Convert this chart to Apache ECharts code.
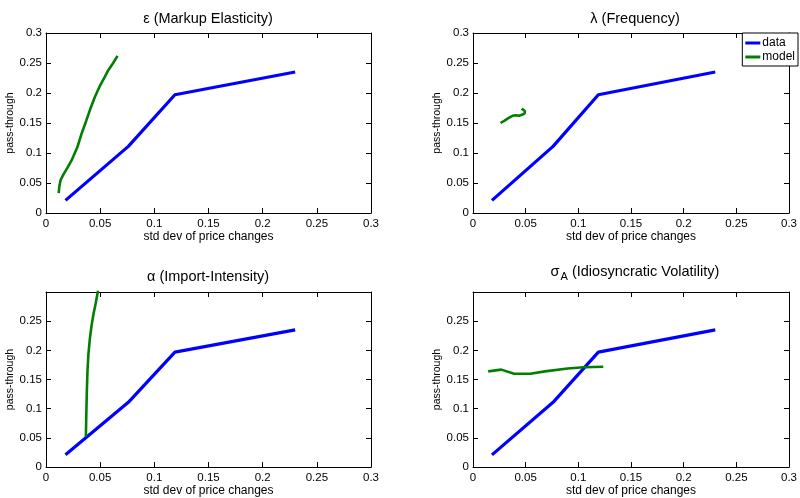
<!DOCTYPE html>
<html>
<head>
<meta charset="utf-8">
<script src="https://cdn.jsdelivr.net/npm/echarts@6/dist/echarts.min.js"></script>
<style>
  html, body { margin: 0; padding: 0; background: #fff; }
  #chart { width: 800px; height: 498px; }
</style>
</head>
<body>
<div id="chart"></div>
<script>
// data (same empirical curve in every panel)
var dataX = [0.018, 0.076, 0.119, 0.230];
var dataY = [0.021, 0.111, 0.197, 0.235];

// model curves, one per panel
var epsX = [0.0117, 0.0123, 0.0135, 0.0160, 0.0200, 0.0237, 0.0290, 0.0330, 0.0370, 0.0406, 0.0450, 0.0498, 0.0540, 0.0575, 0.0620, 0.0660];
var epsY = [0.033, 0.044, 0.055, 0.064, 0.076, 0.088, 0.110, 0.133, 0.153, 0.172, 0.193, 0.212, 0.226, 0.238, 0.250, 0.262];

var lamX = [0.0261, 0.0300, 0.0335, 0.0375, 0.0406, 0.0437, 0.0470, 0.0490, 0.0492, 0.0480, 0.0462];
var lamY = [0.150, 0.154, 0.158, 0.162, 0.163, 0.162, 0.164, 0.166, 0.170, 0.173, 0.174];

var alpX = [0.0368, 0.0372, 0.0377, 0.0383, 0.0392, 0.0405, 0.0420, 0.0438, 0.0458, 0.0478, 0.0500];
var alpY = [0.052, 0.090, 0.130, 0.165, 0.195, 0.220, 0.242, 0.262, 0.280, 0.300, 0.320];

var sigX = [0.0144, 0.0268, 0.0390, 0.0545, 0.0683, 0.0898, 0.1050, 0.1237];
var sigY = [0.164, 0.167, 0.160, 0.160, 0.164, 0.169, 0.171, 0.172];

var xTicks = [0, 0.05, 0.1, 0.15, 0.2, 0.25, 0.3];

var FONT = 'Liberation Sans, Arial, Helvetica, sans-serif';

function pairs(xs, ys) {
    return xs.map(function (x, i) { return [x, ys[i]]; });
}

var grids = [
    { left: 46, top: 33, width: 325, height: 180 },
    { left: 473, top: 33, width: 325, height: 180 },
    { left: 46, top: 292, width: 325, height: 180 },
    { left: 473, top: 292, width: 325, height: 180 }
];
var models = [pairs(epsX, epsY), pairs(lamX, lamY), pairs(alpX, alpY), pairs(sigX, sigY)];

var xAxes = [], yAxes = [], series = [];
var line = { show: true, onZero: false, lineStyle: { color: '#000', width: 1 } };
var tick = { show: true, inside: true, length: 5, lineStyle: { color: '#000' } };

grids.forEach(function (g, i) {
    var bottomRow = i >= 2;
    // bottom x axis with labels
    xAxes.push({
        type: 'value', gridIndex: i, position: 'bottom',
        min: xTicks[0], max: xTicks[xTicks.length - 1], interval: 0.05,
        axisLine: line, axisTick: tick, splitLine: { show: false },
        axisLabel: { color: '#000', fontSize: 11.5, fontFamily: FONT, margin: 5 },
        name: 'std dev of price changes', nameLocation: 'middle', nameGap: 16,
        nameTextStyle: { color: '#000', fontSize: 12, fontFamily: FONT, verticalAlign: 'top' }
    });
    // top x axis, ticks only
    xAxes.push({
        type: 'value', gridIndex: i, position: 'top',
        min: 0, max: 0.3, interval: 0.05,
        axisLine: line, axisTick: tick, splitLine: { show: false },
        axisLabel: { show: false }
    });
    yAxes.push({
        type: 'value', gridIndex: i, position: 'left',
        min: 0, max: 0.3, interval: 0.05,
        axisLine: line, axisTick: tick, splitLine: { show: false },
        axisLabel: { color: '#000', fontSize: 11.5, fontFamily: FONT, margin: 4, showMaxLabel: !bottomRow },
        name: 'pass-through', nameLocation: 'middle', nameGap: 27,
        nameTextStyle: { color: '#000', fontSize: 10.5, fontFamily: FONT }
    });
    yAxes.push({
        type: 'value', gridIndex: i, position: 'right',
        min: 0, max: 0.3, interval: 0.05,
        axisLine: line, axisTick: tick, splitLine: { show: false },
        axisLabel: { show: false }
    });
    series.push({
        name: 'data', type: 'line', xAxisIndex: 2 * i, yAxisIndex: 2 * i,
        data: pairs(dataX, dataY), showSymbol: false, silent: true,
        lineStyle: { color: '#0000ff', width: 3.2 }, itemStyle: { color: '#0000ff' }
    });
    series.push({
        name: 'model', type: 'line', xAxisIndex: 2 * i, yAxisIndex: 2 * i,
        data: models[i], showSymbol: false, silent: true, clip: true,
        lineStyle: { color: '#007f00', width: 2.6 }, itemStyle: { color: '#007f00' }
    });
});

var titleFont = { color: '#000', fontSize: 14.5, fontFamily: FONT, fontWeight: 'normal' };

var option = {
    backgroundColor: '#fff',
    animation: false,
    title: [
        { text: 'ε (Markup Elasticity)', left: 208, top: 11, textAlign: 'center', padding: 0, textStyle: titleFont },
        { text: 'λ (Frequency)', left: 635, top: 11, textAlign: 'center', padding: 0, textStyle: titleFont },
        { text: 'α (Import-Intensity)', left: 208, top: 269, textAlign: 'center', padding: 0, textStyle: titleFont },
        {
            text: '{a|σ}{b|A}{a| (Idiosyncratic Volatility)}', left: 635, top: 262, textAlign: 'center', padding: 0,
            textStyle: {
                color: '#000', fontFamily: FONT, fontWeight: 'normal',
                rich: {
                    a: { fontSize: 14.5, fontFamily: FONT, color: '#000', fontWeight: 'normal' },
                    b: { fontSize: 11, fontFamily: FONT, color: '#000', fontWeight: 'normal', padding: [9, 0, 0, 1] }
                }
            }
        }
    ],
    legend: {
        data: ['data', 'model'], orient: 'vertical',
        right: 2, top: 33, padding: [4, 3, 3, 3], itemGap: 2,
        icon: 'rect', itemWidth: 15, itemHeight: 3,
        borderColor: '#000', borderWidth: 1, backgroundColor: '#fff',
        textStyle: { color: '#000', fontSize: 12, fontFamily: FONT, padding: [0, 0, 0, -3] }
    },
    grid: grids,
    xAxis: xAxes,
    yAxis: yAxes,
    series: series
};

echarts.init(document.getElementById('chart')).setOption(option);
</script>
</body>
</html>
